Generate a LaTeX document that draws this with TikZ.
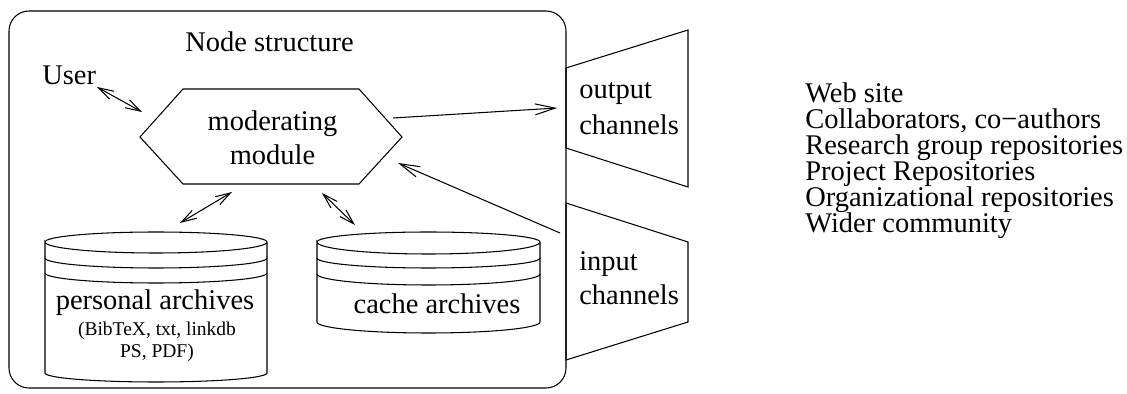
\documentclass[tikz,border=0pt]{standalone}
\usepackage{fontspec}
\setmainfont{Liberation Serif}
\usetikzlibrary{arrows.meta}

\begin{document}
\begin{tikzpicture}[line width=0.6pt,
    >={Straight Barb[length=4mm,width=2.2mm]},
    both/.style={{Straight Barb[length=3mm,width=1.8mm]}-{Straight Barb[length=3mm,width=1.8mm]}},
    every node/.style={inner sep=1pt, font=\fontsize{16.2}{21}\selectfont},
    small/.style={font=\fontsize{11.1}{13}\selectfont}]
    \useasboundingbox (0,0) rectangle (22.54,7.88);
    % node frame
    \draw[rounded corners=0.4cm] (0.18,0.12) rectangle (11.32,7.66);
    \node[anchor=base] (title) at (5.39,6.85) {Node structure};
    \node[anchor=base west] (user) at (0.80,6.18) {User};
    % moderating module
    \coordinate (hl) at (2.80,5.14);
    \coordinate (htl) at (3.66,6.10);
    \coordinate (htr) at (7.18,6.10);
    \coordinate (hr) at (8.04,5.14);
    \coordinate (hbr) at (7.18,4.20);
    \coordinate (hbl) at (3.66,4.20);
    \draw (hl) -- (htl) -- (htr) -- (hr) -- (hbr) -- (hbl) -- cycle;
    \node[anchor=base, align=center, font=\fontsize{16.2}{19.9}\selectfont] (modr) at (5.45,4.58) {moderating\\module};
    % personal archives
    \draw (0.90,3.04) arc[start angle=180, end angle=0, x radius=2.22, y radius=0.20]
        arc[start angle=0, end angle=-180, x radius=2.22, y radius=0.22]
        -- (0.90,0.42) arc[start angle=180, end angle=360, x radius=2.22, y radius=0.18]
        -- (5.34,3.04);
    \draw (0.90,2.72) arc[start angle=180, end angle=360, x radius=2.22, y radius=0.20];
    \draw (0.90,2.42) arc[start angle=180, end angle=360, x radius=2.22, y radius=0.20];
    \node[anchor=base] (pers) at (3.10,1.68) {personal archives};
    \node[small, anchor=base, align=center] (persnote) at (3.14,0.72) {(BibTeX, txt, linkdb\\PS, PDF)};
    % cache archives
    \draw (6.34,3.04) arc[start angle=180, end angle=0, x radius=2.23, y radius=0.20]
        arc[start angle=0, end angle=-180, x radius=2.23, y radius=0.24]
        -- (6.34,1.44) arc[start angle=180, end angle=360, x radius=2.23, y radius=0.22]
        -- (10.80,3.04);
    \draw (6.34,2.72) arc[start angle=180, end angle=360, x radius=2.23, y radius=0.20];
    \draw (6.34,2.40) arc[start angle=180, end angle=360, x radius=2.23, y radius=0.22];
    \node[anchor=base] (cache) at (8.74,1.60) {cache archives};
    % channels
    \draw (11.32,6.52) -- (13.76,7.28) -- (13.76,4.14) -- (11.32,4.92) -- cycle;
    \draw (11.32,3.82) -- (13.76,3.04) -- (13.76,1.44) -- (11.32,0.68) -- cycle;
    \node[anchor=base west, align=left, font=\fontsize{16.2}{21}\selectfont] (outch) at (11.54,5.18) {output\\channels};
    \node[anchor=base west, align=left, font=\fontsize{16.2}{19.9}\selectfont] (inch) at (11.54,1.78) {input\\channels};
    % arrows
    \coordinate (usr-a) at (1.94,6.14);
    \coordinate (mod-a) at (2.84,5.64);
    \coordinate (mod-b) at (4.64,4.04);
    \coordinate (pers-a) at (3.60,3.42);
    \coordinate (mod-c) at (6.44,4.02);
    \coordinate (cache-a) at (7.10,3.38);
    \coordinate (mod-d) at (7.86,5.52);
    \coordinate (out-a) at (11.14,5.72);
    \coordinate (in-a) at (11.20,3.22);
    \coordinate (mod-e) at (7.96,4.62);
    \draw[both] (usr-a) -- (mod-a);
    \draw[both] (mod-b) -- (pers-a);
    \draw[both] (mod-c) -- (cache-a);
    \draw[->] (mod-d) -- (out-a);
    \draw[->] (in-a) -- (mod-e);
    % destinations
    \foreach \txt [count=\i] in {Web site, {Collaborators, co−authors}, Research group repositories,
        Project Repositories, Organizational repositories, Wider community}
        \node[anchor=base west] (dest\i) at (16.06,6.34-0.52*\i) {\txt};
\end{tikzpicture}
\end{document}
